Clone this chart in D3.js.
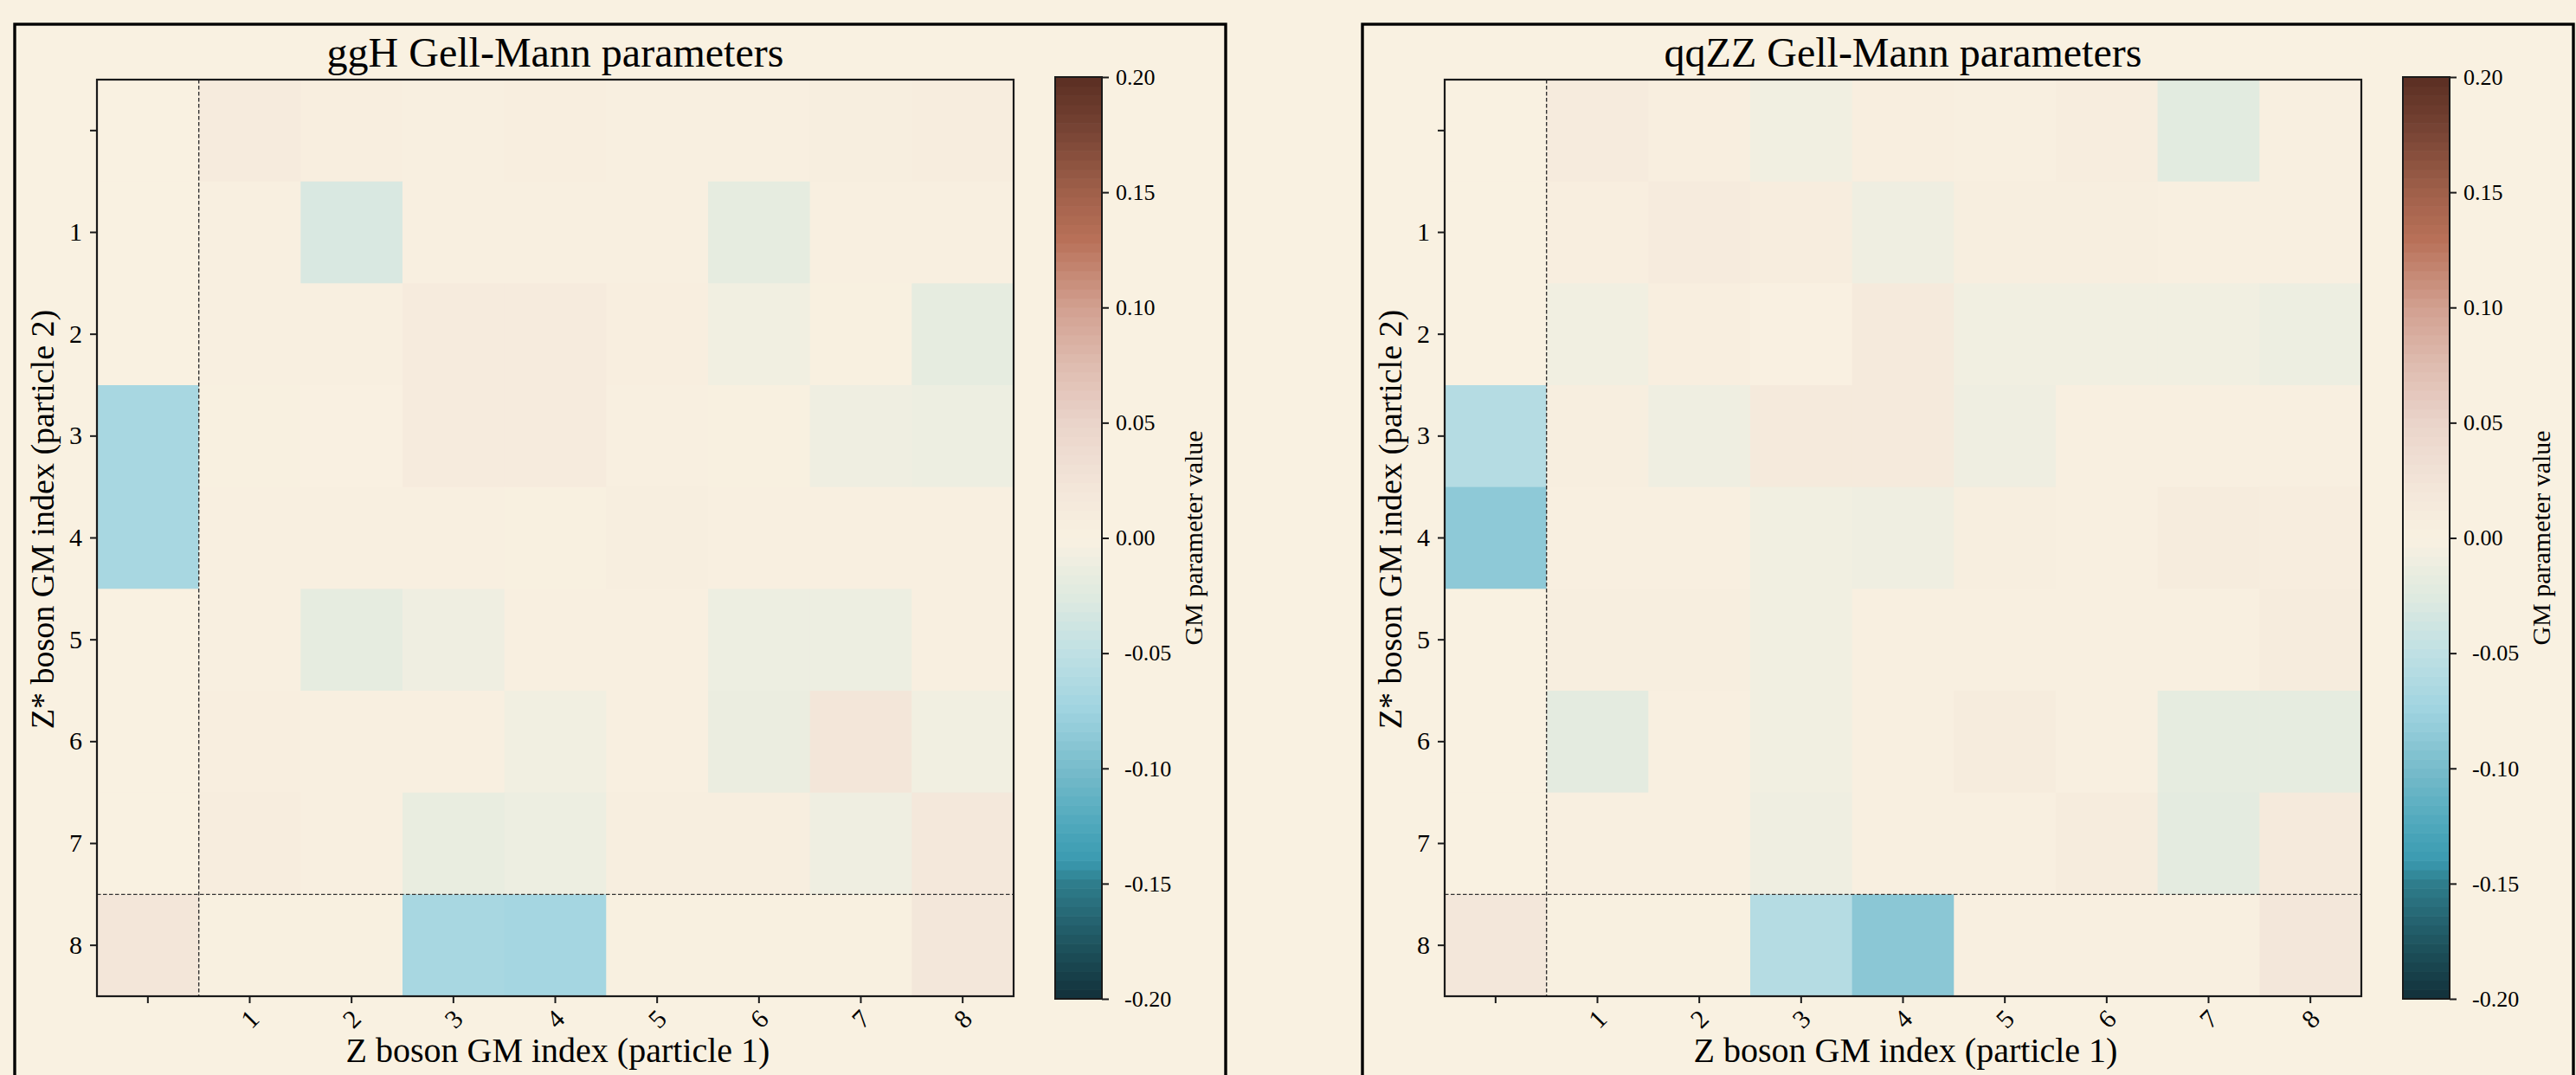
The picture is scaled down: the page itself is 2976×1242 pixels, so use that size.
<!DOCTYPE html>
<html>
<head>
<meta charset="utf-8">
<script src="https://cdn.jsdelivr.net/npm/d3@7"></script>
<style>
  html, body { margin: 0; padding: 0; background: #f9f1e1; }
  text { font-family: "Liberation Serif", "DejaVu Serif", serif; fill: #000; }
</style>
</head>
<body>
<script>
// rows = Z* boson GM index (particle 2), cols = Z boson GM index (particle 1)
var ggH = [
  [ 0.000,  0.012,  0.005,  0.004,  0.005,  0.003,  0.003,  0.006,  0.008],
  [ 0.000,  0.004, -0.030,  0.003,  0.003,  0.003, -0.018,  0.003,  0.003],
  [ 0.000,  0.003,  0.003,  0.012,  0.012,  0.005, -0.008,  0.002, -0.018],
  [-0.068,  0.002,  0.001,  0.012,  0.012,  0.003,  0.002, -0.010, -0.012],
  [-0.068,  0.003,  0.003,  0.003,  0.002,  0.006,  0.003,  0.003,  0.003],
  [ 0.000,  0.003, -0.018, -0.010,  0.003,  0.004, -0.012, -0.012,  0.003],
  [ 0.000,  0.005,  0.003,  0.003, -0.008,  0.003, -0.013,  0.022, -0.008],
  [ 0.000,  0.008,  0.003, -0.015, -0.012,  0.006,  0.006, -0.010,  0.018],
  [ 0.022,  0.002,  0.002, -0.068, -0.070,  0.002,  0.002,  0.002,  0.020]
];
var qqZZ = [
  [ 0.000,  0.012,  0.005, -0.008,  0.005,  0.004,  0.008, -0.022,  0.004],
  [ 0.000,  0.005,  0.012,  0.008, -0.010,  0.006,  0.006,  0.003,  0.003],
  [ 0.000, -0.008,  0.005,  0.001,  0.014, -0.008, -0.008, -0.008, -0.012],
  [-0.058,  0.006, -0.010,  0.014,  0.014, -0.010,  0.003,  0.003,  0.003],
  [-0.086,  0.003,  0.003, -0.008, -0.010,  0.006,  0.004,  0.010,  0.007],
  [ 0.000,  0.006,  0.006, -0.008,  0.003,  0.003,  0.003,  0.003,  0.010],
  [ 0.000, -0.020,  0.003, -0.008,  0.003,  0.010,  0.004, -0.018, -0.018],
  [ 0.000,  0.004,  0.004, -0.010,  0.003,  0.004,  0.010, -0.020,  0.014],
  [ 0.020,  0.002,  0.002, -0.058, -0.088,  0.004,  0.004,  0.004,  0.020]
];
var titles = ["ggH Gell-Mann parameters", "qqZZ Gell-Mann parameters"];
var gmIndex = [0, 1, 2, 3, 4, 5, 6, 7, 8];
var tickLabels = ["", "1", "2", "3", "4", "5", "6", "7", "8"];
var cbarTicks = [-0.20, -0.15, -0.10, -0.05, 0.00, 0.05, 0.10, 0.15, 0.20];

// diverging map, teal -> cream -> brown
var cmapStops  = [-0.2, -0.175, -0.15, -0.14, -0.125, -0.1, -0.075, -0.05, -0.025, 0, 0.025, 0.05, 0.075, 0.1, 0.13, 0.15, 0.175, 0.2];
var cmapColors = ["#12303a", "#1f5560", "#2f7d8c", "#3a9ab0", "#4ea8bc", "#78bccb", "#9fd3e0", "#bfe0e4", "#dfeae0", "#f9f1e1",
                  "#f2e4d8", "#ead4ca", "#dfbcb0", "#d2a090", "#b87058", "#a0604a", "#7a4636", "#5a2e22"];

var color = d3.scaleLinear().domain(cmapStops).range(cmapColors).interpolate(d3.interpolateRgb).clamp(true);

var W = 2976, H = 1242, size = 1059, offset = 1557;

var svg = d3.select("body").append("svg").attr("width", W).attr("height", H);
svg.append("rect").attr("width", W).attr("height", H).attr("fill", "#f9f1e1");

function drawPanel(ox, title, data) {
  var p = svg.append("g").attr("transform", "translate(" + ox + ",0)");

  // frame around subfigure
  p.append("rect")
      .attr("x", 17).attr("y", 28)
      .attr("width", 1399).attr("height", 1300)
      .attr("fill", "none").attr("stroke", "#000").attr("stroke-width", 3.4);

  var g = p.append("g").attr("transform", "translate(112,92)");

  var x = d3.scaleBand().domain(gmIndex).range([0, size]);
  var y = d3.scaleBand().domain(gmIndex).range([0, size]);

  data.forEach(function(row, r) {
    g.selectAll(null)
        .data(row)
      .enter().append("rect")
        .attr("x", function(d, c) { return x(c); })
        .attr("y", y(r))
        .attr("width", x.bandwidth() + 0.5)
        .attr("height", y.bandwidth() + 0.5)
        .attr("fill", function(d) { return color(d); });
  });

  // separators for the index-0 row/column
  g.append("line")
      .attr("x1", x(1)).attr("x2", x(1))
      .attr("y1", 0).attr("y2", size)
      .attr("stroke", "#333").attr("stroke-width", 1.4).attr("stroke-dasharray", "4.5,2.5");
  g.append("line")
      .attr("x1", 0).attr("x2", size)
      .attr("y1", y(8)).attr("y2", y(8))
      .attr("stroke", "#333").attr("stroke-width", 1.4).attr("stroke-dasharray", "4.5,2.5");

  g.append("rect")
      .attr("width", size).attr("height", size)
      .attr("fill", "none").attr("stroke", "#1a1a1a").attr("stroke-width", 2.2);

  var xAxis = g.append("g")
      .attr("transform", "translate(0," + size + ")")
      .call(d3.axisBottom(x).tickSize(8).tickSizeOuter(0).tickFormat(function(d, i) { return tickLabels[i]; }));
  xAxis.select(".domain").remove();
  xAxis.selectAll("line").attr("stroke", "#1a1a1a").attr("stroke-width", 2);
  xAxis.selectAll("text")
      .attr("font-size", 30)
      .attr("text-anchor", "middle")
      .attr("dy", null)
      .attr("y", null)
      .attr("transform", "translate(0,26) rotate(-45)")
      .attr("dominant-baseline", "central");

  var yAxis = g.append("g")
      .call(d3.axisLeft(y).tickSize(8).tickSizeOuter(0).tickPadding(9).tickFormat(function(d, i) { return tickLabels[i]; }));
  yAxis.select(".domain").remove();
  yAxis.selectAll("line").attr("stroke", "#1a1a1a").attr("stroke-width", 2);
  yAxis.selectAll("text").attr("font-size", 30);

  p.append("text")
      .attr("x", 112 + size / 2).attr("y", 77)
      .attr("text-anchor", "middle")
      .attr("font-size", 48)
      .text(title);

  p.append("text")
      .attr("x", 112 + size / 2 + 3).attr("y", 1227)
      .attr("text-anchor", "middle")
      .attr("font-size", 40)
      .text("Z boson GM index (particle 1)");

  p.append("text")
      .attr("transform", "translate(62,600) rotate(-90)")
      .attr("text-anchor", "middle")
      .attr("font-size", 38)
      .text("Z* boson GM index (particle 2)");

  // colorbar
  var cbH = 1065, cbW = 54;
  var cb = p.append("g").attr("transform", "translate(1219,89)");
  var cy = d3.scaleLinear().domain([-0.2, 0.2]).range([cbH, 0]);
  var nBands = 100, step = 0.4 / nBands;
  cb.selectAll("rect.band")
      .data(d3.range(nBands))
    .enter().append("rect")
      .attr("class", "band")
      .attr("x", 0)
      .attr("y", function(i) { return cy(-0.2 + (i + 1) * step); })
      .attr("width", cbW)
      .attr("height", cbH / nBands + 0.6)
      .attr("fill", function(i) { return color(-0.2 + (i + 0.5) * step); });
  cb.append("rect")
      .attr("width", cbW).attr("height", cbH)
      .attr("fill", "none").attr("stroke", "#1a1a1a").attr("stroke-width", 2);

  var cAxis = cb.append("g")
      .attr("transform", "translate(" + cbW + ",0)")
      .call(d3.axisRight(cy).tickValues(cbarTicks).tickSize(8).tickPadding(8).tickFormat(function(d) { return d.toFixed(2); }));
  cAxis.select(".domain").remove();
  cAxis.selectAll("line").attr("stroke", "#1a1a1a").attr("stroke-width", 2);
  cAxis.selectAll("text")
      .attr("font-size", 26)
      .attr("dx", function(d) { return d < 0 ? 10 : 0; });

  p.append("text")
      .attr("transform", "translate(1389," + (89 + cbH / 2) + ") rotate(-90)")
      .attr("text-anchor", "middle")
      .attr("font-size", 30)
      .text("GM parameter value");
}

drawPanel(0, titles[0], ggH);
drawPanel(offset, titles[1], qqZZ);
</script>
</body>
</html>
